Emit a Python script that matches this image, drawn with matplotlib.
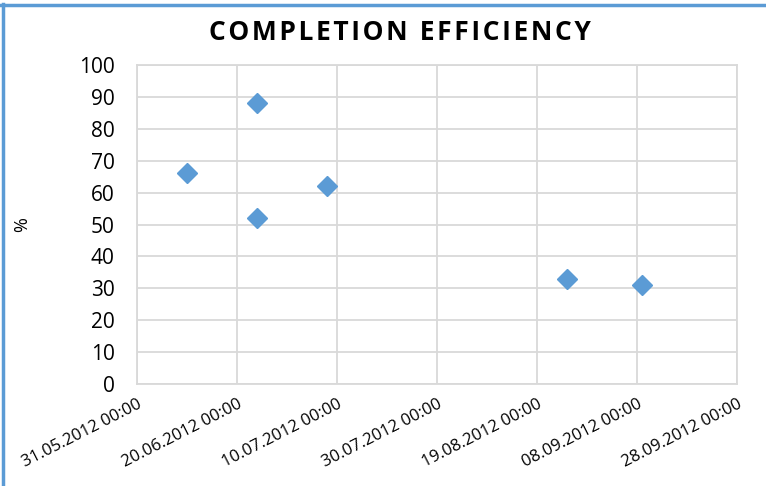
import matplotlib
matplotlib.use("Agg")
import matplotlib.pyplot as plt
from matplotlib.lines import Line2D
import datetime as dt

# Completion dates and efficiency values (%)
dates = ["2012-06-10", "2012-06-24", "2012-06-24", "2012-07-08", "2012-08-25", "2012-09-09"]
efficiency = [66, 88, 52, 62, 33, 31]

x_start = "2012-05-31"
x_end = "2012-09-28"
tick_step_days = 20
y_ticks = [0, 10, 20, 30, 40, 50, 60, 70, 80, 90, 100]

title = "COMPLETION EFFICIENCY"
y_label = "%"

plt.rcParams["font.family"] = ["Open Sans", "DejaVu Sans"]

fig = plt.figure(figsize=(7.66, 4.86), dpi=100)
ax = fig.add_axes([137 / 766, 1 - 384 / 486, 600 / 766, 319 / 486])

xd = [dt.datetime.strptime(d, "%Y-%m-%d") for d in dates]
x0 = dt.datetime.strptime(x_start, "%Y-%m-%d")
x1 = dt.datetime.strptime(x_end, "%Y-%m-%d")

ax.plot(xd, efficiency, linestyle="none", marker="D", markersize=10,
        color="#5B9BD5", markeredgecolor="#5B9BD5", zorder=3)

ticks = []
t = x0
while t <= x1:
    ticks.append(t)
    t += dt.timedelta(days=tick_step_days)
ax.set_xlim(x0, x1)
ax.set_xticks(ticks)
ax.set_xticklabels([t.strftime("%d.%m.%Y %H:%M") for t in ticks],
                   rotation=27, ha="right", va="top", rotation_mode="anchor",
                   fontsize=12)
ax.set_ylim(0, 100)
ax.set_yticks(y_ticks)
ax.tick_params(axis="y", labelsize=15, length=0, pad=16)
ax.tick_params(axis="x", length=0, pad=9)

ax.grid(True, color="#D9D9D9", linewidth=1.3)
ax.set_axisbelow(True)
for s in ax.spines.values():
    s.set_color("#D9D9D9")
    s.set_linewidth(1.3)

fig.text(22 / 766, 1 - 225 / 486, y_label, rotation=90, fontsize=13,
         ha="center", va="center")

# letter-spaced title
spaced_title = "\u200a".join(title)
fig.text(400 / 766, 1 - 33 / 486, spaced_title, fontsize=19, fontweight="bold",
         ha="center", va="center")

# frame edges along the left and top of the figure
fig.lines.append(Line2D([2.5 / 766, 2.5 / 766], [0, 1 - 4 / 486], transform=fig.transFigure,
                        color="#5B9BD5", linewidth=2.5))
fig.lines.append(Line2D([1.5 / 766, 1], [1 - 5 / 486, 1 - 5 / 486], transform=fig.transFigure,
                        color="#5B9BD5", linewidth=2.5))

fig.savefig("out.png", dpi=100)
